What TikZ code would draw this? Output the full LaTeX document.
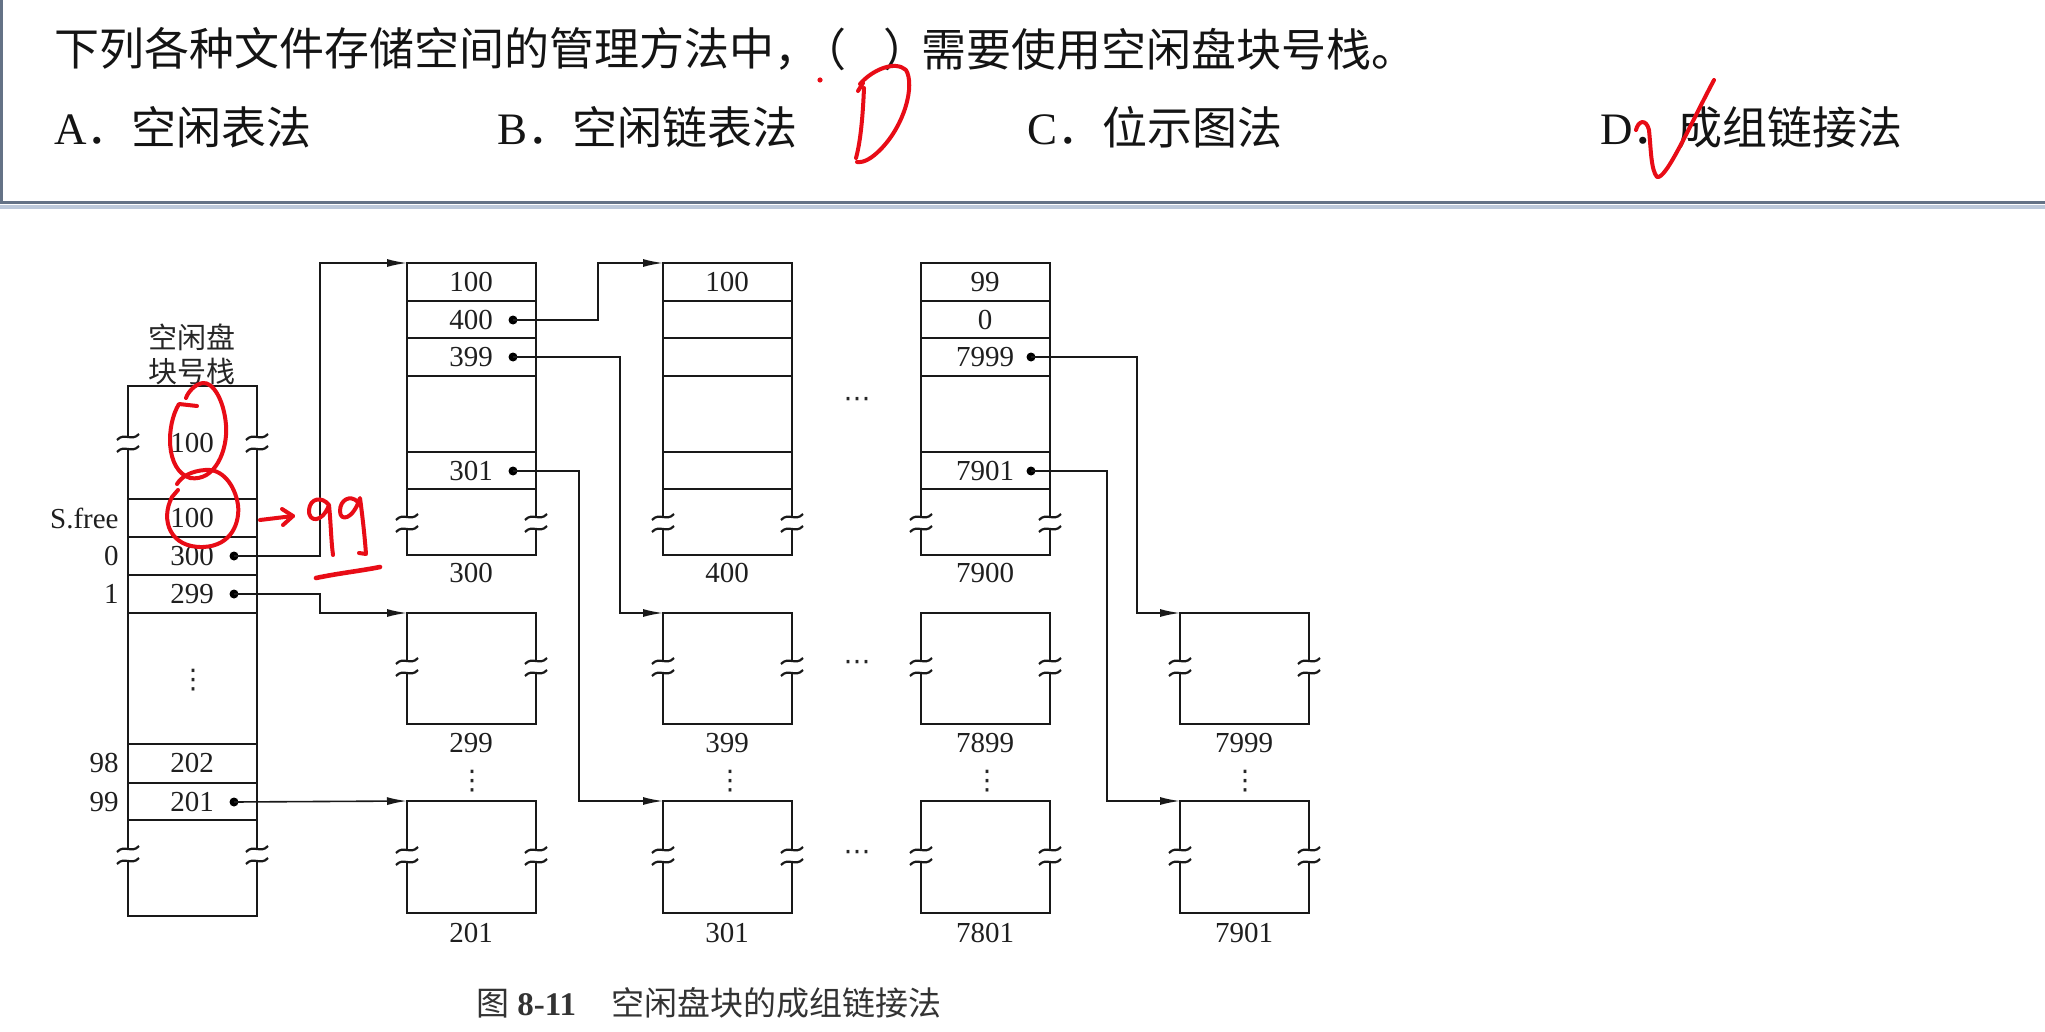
\documentclass[tikz,border=0pt]{standalone}
\usepackage{fontspec}
\setmainfont{Liberation Serif}
\newfontfamily\cjk{Noto Sans CJK SC}
\newfontfamily\sym{DejaVu Sans}
\usetikzlibrary{arrows.meta}
\definecolor{pen}{RGB}{232,12,22}
\definecolor{framec}{RGB}{100,114,134}
\definecolor{frameshadow}{RGB}{188,200,218}

\newcommand{\brkmark}[2]{%
  \draw[brk] ({#1-11},{#2-3}) .. controls ({#1-4},{#2-11}) and ({#1+4},{#2-1}) .. ({#1+11},{#2-9});
  \draw[brk] ({#1-11},{#2+9}) .. controls ({#1-4},{#2+1}) and ({#1+4},{#2+11}) .. ({#1+11},{#2+3});
}
\newcommand{\topcol}[1]{%
  \draw[box] (#1,517) -- (#1,263) -- ({#1+129},263) -- ({#1+129},517);
  \draw[box] (#1,529) -- (#1,555) -- ({#1+129},555) -- ({#1+129},529);
  \foreach \yy in {301,338,376,452,489} \draw[box] (#1,\yy) -- ({#1+129},\yy);
  \brkmark{#1}{523}\brkmark{#1+129}{523}%
}
\newcommand{\smbox}[4]{%
  \draw[box] (#1,{#3-6}) -- (#1,#2) -- ({#1+129},#2) -- ({#1+129},{#3-6});
  \draw[box] (#1,{#3+6}) -- (#1,#4) -- ({#1+129},#4) -- ({#1+129},{#3+6});
  \brkmark{#1}{#3}\brkmark{#1+129}{#3}%
}

\begin{document}
\begin{tikzpicture}[x=0.5pt,y=-0.5pt,
  box/.style={line width=1.25pt, line join=miter, draw=black!90},
  brk/.style={line width=1.1pt, draw=black!90},
  conn/.style={line width=0.8pt, draw=black!90},
  arr/.style={conn,-{Latex[length=10pt,width=4pt]}},
  num/.style={font=\fontsize{14.5}{16}\selectfont, inner sep=0pt, text=black!88},
  vd/.style={inner sep=0pt, text=black!85, font=\sym\fontsize{13.5}{14}\selectfont},
  lbl/.style={num, anchor=east},
  cjkt/.style={inner sep=0pt, font=\cjk\fontsize{14.5}{16}\selectfont, text=black!85},
  dotn/.style={circle, fill=black, inner sep=0pt, minimum size=4.5pt},
  qtext/.style={font=\fontsize{22.5}{26}\selectfont, inner sep=0pt, anchor=west, text=black!92},
  penline/.style={draw=pen, line width=2pt, line cap=round, line join=round},
]
\useasboundingbox (0,0) rectangle (2045,1032);
\fill[white] (0,0) rectangle (2045,1032);

% frame of the question
\draw[frameshadow, line width=1.6pt] (0,207) -- (2045,207);
\draw[framec, line width=1.5pt] (1.5,-2) -- (1.5,203) -- (2046,203);

% question
\node[qtext] (q1) at (54,49) {\cjk 下列各种文件存储空间的管理方法中，};
\node[qtext, anchor=center] (qp1) at (824,49) {\cjk （};
\node[qtext, anchor=center] (qp2) at (906,49) {\cjk ）};
\node[qtext] (q2) at (921,49) {\cjk 需要使用空闲盘块号栈。};

\node[qtext] (oa) at (54,127) {A{\cjk ．空闲表法}};
\node[qtext] (ob) at (497,127) {B{\cjk ．空闲链表法}};
\node[qtext] (oc) at (1027,127) {C{\cjk ．位示图法}};
\node[qtext] (od) at (1600,127) {D{\cjk ．成组链接法}};

% red handwriting at the top
\fill[pen] (820,80) circle (1.3pt);
\draw[penline] (858,91) -- (863,83);
\draw[penline] (864,88) .. controls (863,112) and (861,140) .. (856,158);
\draw[penline] (860,84) .. controls (872,70) and (895,60) .. (906,70) .. controls (915,85) and (905,125) .. (880,150) .. controls (872,158) and (864,163) .. (857,162);
\draw[penline] (1636,130) .. controls (1638,121) and (1646,118) .. (1649,130) .. controls (1651,150) and (1651,170) .. (1657,177) .. controls (1666,180) and (1690,125) .. (1714,80);

% ---------- free block number stack ----------
\node[cjkt] (t1) at (192,337) {空闲盘};
\node[cjkt] (t2) at (192,372) {块号栈};
\draw[box] (128,437) -- (128,386) -- (257,386) -- (257,437);
\draw[box] (128,449) -- (128,849);
\draw[box] (257,449) -- (257,849);
\draw[box] (128,861) -- (128,916) -- (257,916) -- (257,861);
\foreach \yy in {499,537,575,613,744,783,820} \draw[box] (128,\yy) -- (257,\yy);
\brkmark{128}{443}\brkmark{257}{443}\brkmark{128}{855}\brkmark{257}{855}

\node[num] (s100a) at (192,443) {100};
\node[num] (sfree) at (192,518) {100};
\node[num] (s300) at (192,556) {300};
\node[num] (s299) at (192,594) {299};
\node[vd] (sdots) at (193,680) {⋮};
\node[num] (s202) at (192,763) {202};
\node[num] (s201) at (192,802) {201};
\node[lbl] (lfree) at (119,518) {S.free};
\node[lbl] (l0) at (119,556) {0};
\node[lbl] (l1) at (119,594) {1};
\node[lbl] (l98) at (119,763) {98};
\node[lbl] (l99) at (119,802) {99};
\node[dotn] (d300) at (234,556) {};
\node[dotn] (d299) at (234,594) {};
\node[dotn] (d201) at (234,802) {};

% ---------- top blocks ----------
\topcol{407}\topcol{663}\topcol{921}
\node[num] (c1a) at (471,282) {100};
\node[num] (c1b) at (471,320) {400};
\node[num] (c1c) at (471,357) {399};
\node[num] (c1d) at (471,471) {301};
\node[num] (c1l) at (471,573) {300};
\node[dotn] (d400) at (513,320) {};
\node[dotn] (d399) at (513,357) {};
\node[dotn] (d301) at (513,471) {};
\node[num] (c2a) at (727,282) {100};
\node[num] (c2l) at (727,573) {400};
\node[num] (c3a) at (985,282) {99};
\node[num] (c3b) at (985,320) {0};
\node[num] (c3c) at (985,357) {7999};
\node[num] (c3d) at (985,471) {7901};
\node[num] (c3l) at (985,573) {7900};
\node[dotn] (d7999) at (1031,357) {};
\node[dotn] (d7901) at (1031,471) {};

% ---------- lower blocks ----------
\smbox{407}{613}{667}{724}\smbox{663}{613}{667}{724}\smbox{921}{613}{667}{724}\smbox{1180}{613}{667}{724}
\smbox{407}{801}{856}{913}\smbox{663}{801}{856}{913}\smbox{921}{801}{856}{913}\smbox{1180}{801}{856}{913}
\node[num] (l299) at (471,743) {299};
\node[num] (l399) at (727,743) {399};
\node[num] (l7899) at (985,743) {7899};
\node[num] (l7999) at (1244,743) {7999};
\node[num] (l201) at (471,933) {201};
\node[num] (l301) at (727,933) {301};
\node[num] (l7801) at (985,933) {7801};
\node[num] (l7901) at (1244,933) {7901};
\node[vd] (v1) at (472,781) {⋮};
\node[vd] (v2) at (730,781) {⋮};
\node[vd] (v3) at (987,781) {⋮};
\node[vd] (v4) at (1245,781) {⋮};
\node[vd] (h1) at (857,402) {⋯};
\node[vd] (h2) at (857,665) {⋯};
\node[vd] (h3) at (857,855) {⋯};

\coordinate (b300) at (407,263);
\coordinate (b400) at (663,263);
\coordinate (b299) at (407,613);
\coordinate (b399) at (663,613);
\coordinate (b7999) at (1180,613);
\coordinate (b201) at (407,801);
\coordinate (b301) at (663,801);
\coordinate (b7901) at (1180,801);

\draw[arr] (d300.center) -| (320,263) -- (b300);
\draw[arr] (d299.center) -| (320,613) -- (b299);
\draw[arr] (d201.center) -- (b201);
\draw[arr] (d400.center) -| (598,263) -- (b400);
\draw[arr] (d399.center) -| (620,613) -- (b399);
\draw[arr] (d301.center) -| (579,801) -- (b301);
\draw[arr] (d7999.center) -| (1137,613) -- (b7999);
\draw[arr] (d7901.center) -| (1107,801) -- (b7901);

% ---------- red annotations in the figure ----------
\draw[penline] (197,406) -- (179,404) .. controls (166,425) and (165,470) .. (190,478) .. controls (215,482) and (228,450) .. (226,425) .. controls (224,400) and (213,382) .. (203,383) .. controls (195,384) and (188,392) .. (186,398);
\draw[penline] (178,490) -- (172,497) .. controls (160,520) and (170,548) .. (203,547) .. controls (232,546) and (240,522) .. (238,505) .. controls (235,485) and (222,468) .. (205,470) .. controls (192,471) and (182,476) .. (177,484);
\draw[penline] (260,520) -- (293,516);
\draw[penline] (282,509) -- (293,516) -- (283,525);
\draw[penline] (329,505) .. controls (322,496) and (310,498) .. (309,510) .. controls (308,522) and (322,524) .. (329,505) .. controls (331,525) and (331,540) .. (333,555);
\draw[penline] (358,502) .. controls (350,494) and (340,500) .. (340,511) .. controls (340,522) and (353,520) .. (360,498) .. controls (363,520) and (365,540) .. (366,554) -- (359,553);
\draw[penline, line width=2.3pt] (316,578) .. controls (340,573) and (360,571) .. (380,567);

% caption
\node[anchor=west, inner sep=0pt, text=black!80, font=\fontsize{16.5}{18}\selectfont] (cap) at (476,1003)
  {{\cjk 图}\hspace{4pt}\textbf{8-11}\hspace{17.5pt}{\cjk 空闲盘块的成组链接法}};
\end{tikzpicture}
\end{document}
